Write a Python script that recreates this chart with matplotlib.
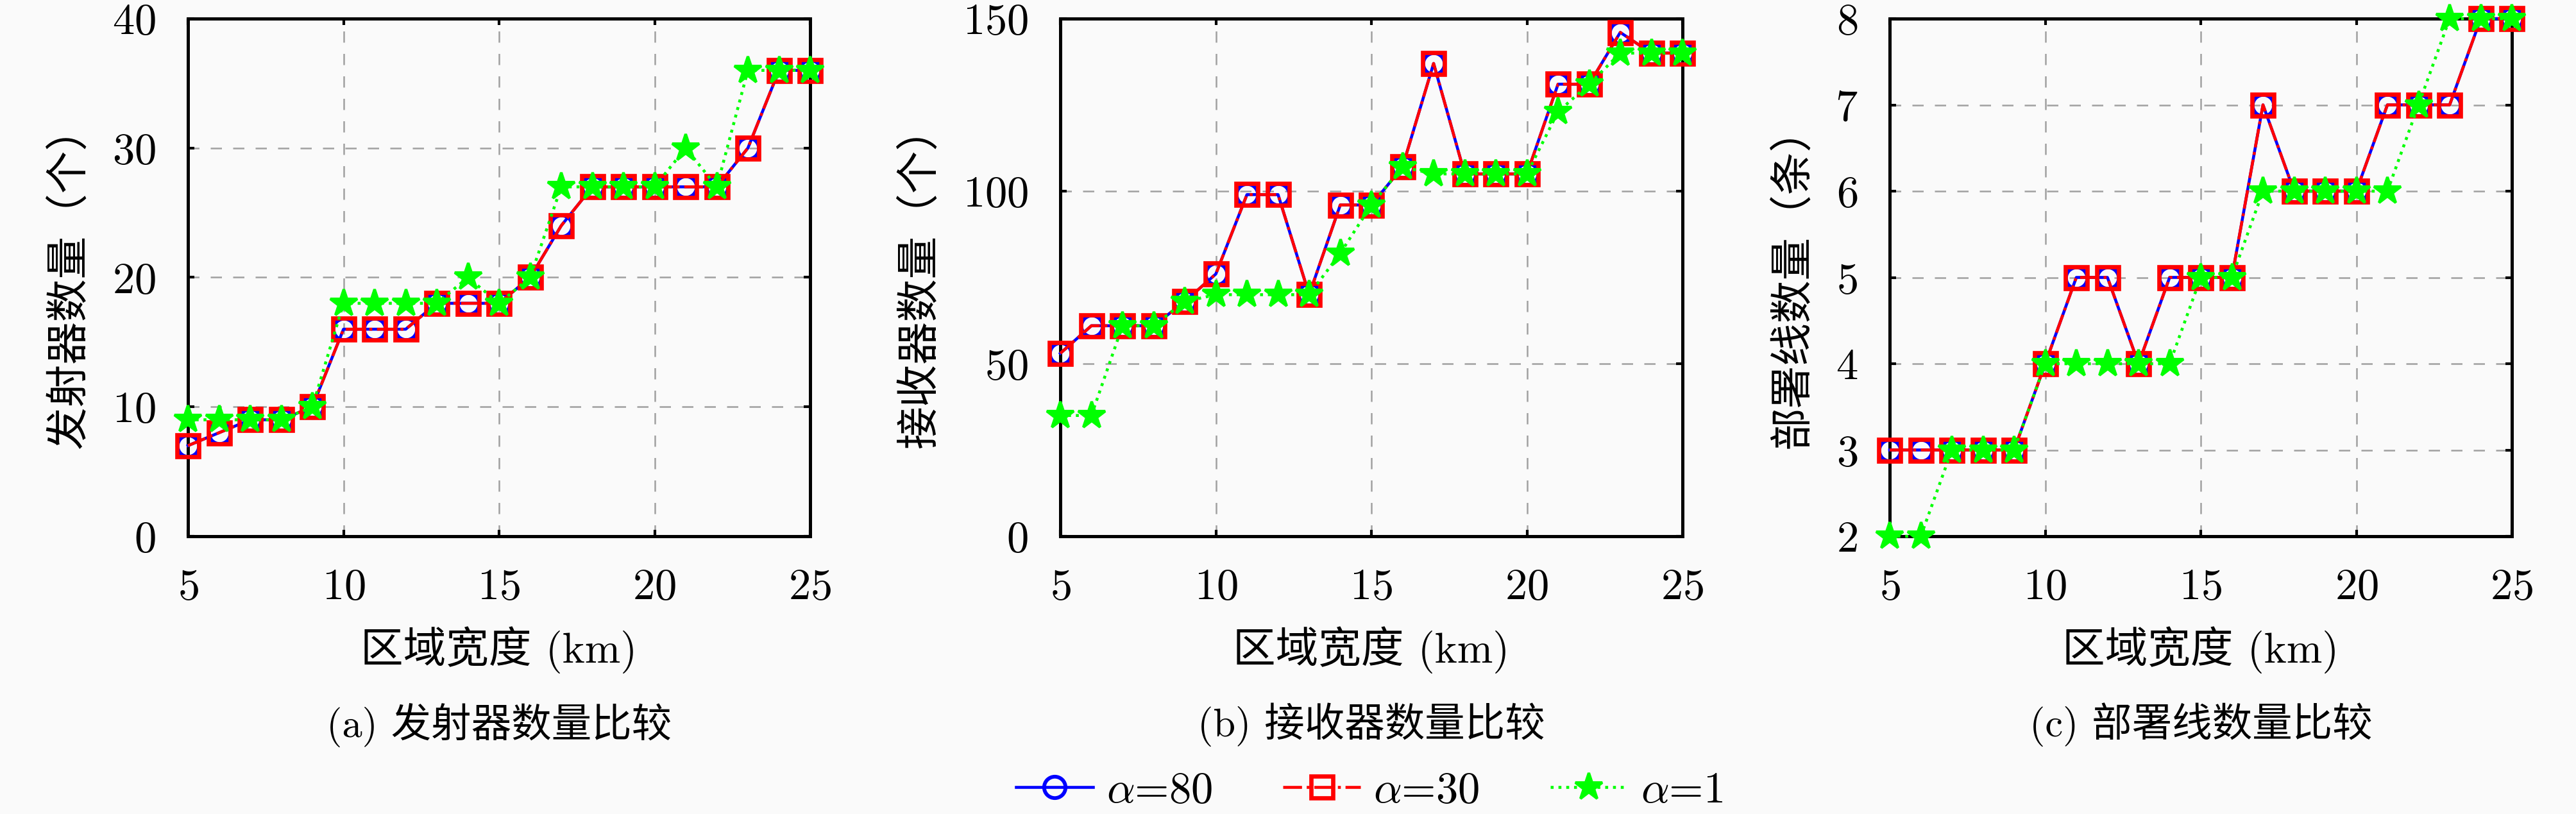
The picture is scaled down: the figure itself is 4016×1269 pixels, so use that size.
import matplotlib
matplotlib.use("Agg")
import matplotlib.pyplot as plt

plt.rcParams["font.family"] = ["cmr10", "Noto Sans CJK SC"]
plt.rcParams["mathtext.fontset"] = "cm"
plt.rcParams["axes.unicode_minus"] = False
plt.rcParams["axes.formatter.use_mathtext"] = True

# region width (km)
width_km = list(range(5, 26))

# (a) transmitters
tx_a80 = [7, 8, 9, 9, 10, 16, 16, 16, 18, 18, 18, 20, 24, 27, 27, 27, 27, 27, 30, 36, 36]
tx_a30 = [7, 8, 9, 9, 10, 16, 16, 16, 18, 18, 18, 20, 24, 27, 27, 27, 27, 27, 30, 36, 36]
tx_a1 = [9, 9, 9, 9, 10, 18, 18, 18, 18, 20, 18, 20, 27, 27, 27, 27, 30, 27, 36, 36, 36]

# (b) receivers
rx_a80 = [53, 61, 61, 61, 68, 76, 99, 99, 70, 96, 96, 107, 137, 105, 105, 105, 131, 131, 146, 140, 140]
rx_a30 = [53, 61, 61, 61, 68, 76, 99, 99, 70, 96, 96, 107, 137, 105, 105, 105, 131, 131, 146, 140, 140]
rx_a1 = [35, 35, 61, 61, 68, 70, 70, 70, 70, 82, 96, 107, 105, 105, 105, 105, 123, 131, 140, 140, 140]

# (c) deployment lines
ln_a80 = [3, 3, 3, 3, 3, 4, 5, 5, 4, 5, 5, 5, 7, 6, 6, 6, 7, 7, 7, 8, 8]
ln_a30 = [3, 3, 3, 3, 3, 4, 5, 5, 4, 5, 5, 5, 7, 6, 6, 6, 7, 7, 7, 8, 8]
ln_a1 = [2, 2, 3, 3, 3, 4, 4, 4, 4, 4, 5, 5, 6, 6, 6, 6, 6, 7, 8, 8, 8]

series_labels = [r"$\alpha$=80", r"$\alpha$=30", r"$\alpha$=1"]
y_labels = ["发射器数量（个）", "接收器数量（个）", "部署线数量（条）"]
captions = ["(a) 发射器数量比较", "(b) 接收器数量比较", "(c) 部署线数量比较"]
y_ticks = [[0, 10, 20, 30, 40], [0, 50, 100, 150], [2, 3, 4, 5, 6, 7, 8]]
x_ticks = [5, 10, 15, 20, 25]

panels = [
    (tx_a80, tx_a30, tx_a1),
    (rx_a80, rx_a30, rx_a1),
    (ln_a80, ln_a30, ln_a1),
]

BG = "#fafafa"
fig = plt.figure(figsize=(4016 / 300, 1269 / 300), dpi=300, facecolor=BG)

lefts = [293 / 4016, 1653 / 4016, 2946 / 4016]
ylabel_x = [-0.191, -0.226, -0.156]
ax_w = 970 / 4016
ax_b = 1 - 836 / 1269
ax_h = (836 - 29) / 1269

handles = None
for i, (data80, data30, data1) in enumerate(panels):
    ax = fig.add_axes([lefts[i], ax_b, ax_w, ax_h], facecolor=BG)
    h1, = ax.plot(width_km, data80, color="#0000ff", linestyle="-", linewidth=1.1,
                  marker="o", markersize=8, markerfacecolor="none",
                  markeredgewidth=1.4, clip_on=False, zorder=3)
    h2, = ax.plot(width_km, data30, color="#ff0000", linestyle="-.", linewidth=1.1,
                  marker="s", markersize=8, markerfacecolor="none",
                  markeredgewidth=1.6, clip_on=False, zorder=4)
    h3, = ax.plot(width_km, data1, color="#00ff00", linestyle=":", linewidth=1.1,
                  marker="*", markersize=10.5, markerfacecolor="#00ff00",
                  markeredgecolor="#00ff00", clip_on=False, zorder=5)
    handles = [h1, h2, h3]

    ax.set_xlim(5, 25)
    ax.set_ylim(y_ticks[i][0], y_ticks[i][-1])
    ax.set_xticks(x_ticks)
    ax.set_yticks(y_ticks[i])
    ax.grid(True, color="#a0a0a0", linestyle=(0, (7, 7)), linewidth=0.6)
    ax.set_axisbelow(True)
    ax.tick_params(direction="in", length=2.5, width=1.0, top=True, right=True,
                   labelsize=16.5, pad=12)
    for spine in ax.spines.values():
        spine.set_linewidth(1.2)

    ax.set_xlabel("区域宽度 (km)", fontsize=16)
    ax.xaxis.label.set_va("center")
    ax.xaxis.set_label_coords(0.5, ((1269 - 1013) / 1269 - ax_b) / ax_h)
    ax.set_ylabel(y_labels[i], fontsize=16)
    ax.yaxis.label.set_va("center")
    ax.yaxis.set_label_coords(ylabel_x[i], 0.5)

    ax.text(0.5, ((1269 - 1130) / 1269 - ax_b) / ax_h, captions[i],
            transform=ax.transAxes, ha="center", va="center", fontsize=15)

fig.legend(handles, series_labels, loc="center",
           bbox_to_anchor=(2135 / 4016, 1 - 1233 / 1269), ncol=3,
           frameon=False, fontsize=16.5, handlelength=1.75,
           handletextpad=0.3, columnspacing=1.6)

fig.savefig("out.png", dpi=300, facecolor=BG)
